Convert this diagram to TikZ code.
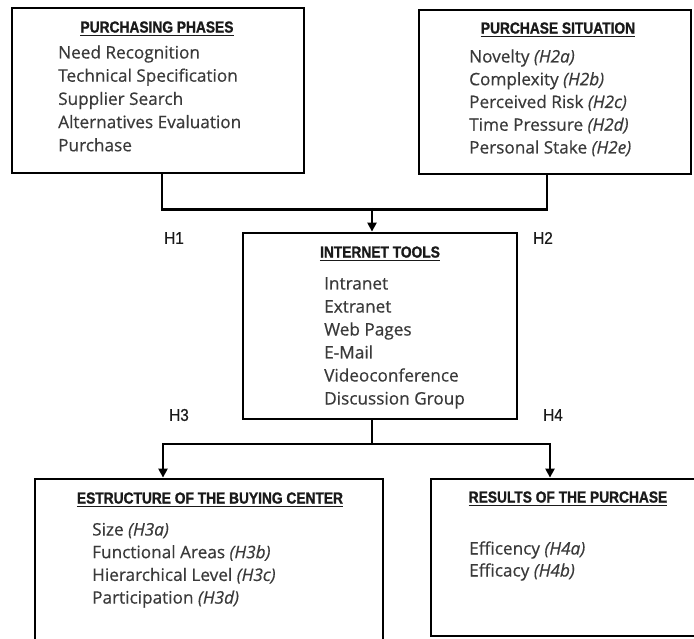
\documentclass[tikz,border=0pt]{standalone}
\usepackage{fontspec}
\setmainfont[FakeBold=0.5]{Open Sans}
\newfontfamily\headfont[FakeStretch=0.86,BoldFeatures={FakeBold=1.2}]{Liberation Sans}
\newfontfamily\hypfont[FakeStretch=0.9,FakeBold=0.6]{Liberation Sans}
\usetikzlibrary{arrows.meta}
\definecolor{bodytext}{HTML}{3A3A3A}
\definecolor{headtext}{HTML}{1A1A1A}
\begin{document}
\begin{tikzpicture}[x=1pt,y=-1pt,
  box/.style={draw=black, line width=2.8pt, fill=white, inner sep=0pt},
  head/.style={font=\headfont\bfseries\fontsize{16}{18}\selectfont, text=headtext, inner sep=0pt, text depth=0pt},
  uline/.style={line width=1.4pt, draw=headtext},
  item/.style={font=\fontsize{17.2}{23}\selectfont, text=bodytext, anchor=base west, inner sep=0pt},
  hyp/.style={font=\hypfont\fontsize{17}{18}\selectfont, text=headtext, inner sep=0pt},
  link/.style={line width=2.6pt, draw=black, line join=miter},
  arr/.style={link, -{Triangle[length=9pt,width=9pt]}}]
\useasboundingbox (0,0) rectangle (694,639);
\fill[white] (0,0) rectangle (694,639);
\clip (0,0) rectangle (694,639);

% boxes
\node[box, minimum width=292pt, minimum height=165pt] (pp) at (158,90.5) {};
\node[box, minimum width=272pt, minimum height=164pt] (ps) at (555,92) {};
\node[box, minimum width=274pt, minimum height=186pt] (it) at (380,326) {};
\node[box, minimum width=348pt, minimum height=181pt] (bc) at (209,569.5) {};
\node[box, minimum width=269pt, minimum height=157pt] (rp) at (565.5,557.5) {};

% headings
\node[head] (pph) at (157,27) {PURCHASING PHASES};
\node[head] (psh) at (558,28) {PURCHASE SITUATION};
\node[head] (ith) at (380,252) {INTERNET TOOLS};
\node[head] (bch) at (210,498) {ESTRUCTURE OF THE BUYING CENTER};
\node[head] (rph) at (568,497) {RESULTS OF THE PURCHASE};
\foreach \h in {pph,psh,ith,bch,rph}{
  \draw[uline] ([yshift=-2.5pt]\h.south west) -- ([yshift=-2.5pt]\h.south east);
}

% items
\foreach \t [count=\i] in {Need Recognition, Technical Specification, Supplier Search, Alternatives Evaluation, Purchase}
  \node[item] (pp\i) at (58,{58.5+(\i-1)*23.2}) {\t};
\foreach \t [count=\i] in {{Novelty \textit{(H2a)}}, {Complexity \textit{(H2b)}}, {Perceived Risk \textit{(H2c)}}, {Time Pressure \textit{(H2d)}}, {Personal Stake \textit{(H2e)}}}
  \node[item] (ps\i) at (469,{62.5+(\i-1)*22.75}) {\t};
\foreach \t [count=\i] in {Intranet, Extranet, Web Pages, E-Mail, Videoconference, Discussion Group}
  \node[item] (it\i) at (324,{289.5+(\i-1)*23}) {\t};
\foreach \t [count=\i] in {{Size \textit{(H3a)}}, {Functional Areas \textit{(H3b)}}, {Hierarchical Level \textit{(H3c)}}, {Participation \textit{(H3d)}}}
  \node[item] (bc\i) at (92,{535.5+(\i-1)*22.7}) {\t};
\foreach \t [count=\i] in {{Efficency \textit{(H4a)}}, {Efficacy \textit{(H4b)}}}
  \node[item] (rp\i) at (469,{554.5+(\i-1)*22}) {\t};

% hypothesis labels
\node[hyp] (h1) at (174,238) {H1};
\node[hyp] (h2) at (543,238) {H2};
\node[hyp] (h3) at (179,415) {H3};
\node[hyp] (h4) at (553,415) {H4};

% connectors
\coordinate (j1) at (372,208);
\coordinate (j2) at (372,444);
\coordinate (a3) at (163,444);
\coordinate (a4) at (550,444);
\draw[link] ([xshift=4pt]pp.south) -- ++(0,35) -| ([xshift=-8pt]ps.south);
\draw[arr] (j1) -- (j1 |- it.north);
\draw[link] (j2 |- it.south) -- (j2);
\draw[arr] (j2) -| (a3 |- bc.north);
\draw[arr] (j2) -| (a4 |- rp.north);
\end{tikzpicture}
\end{document}
